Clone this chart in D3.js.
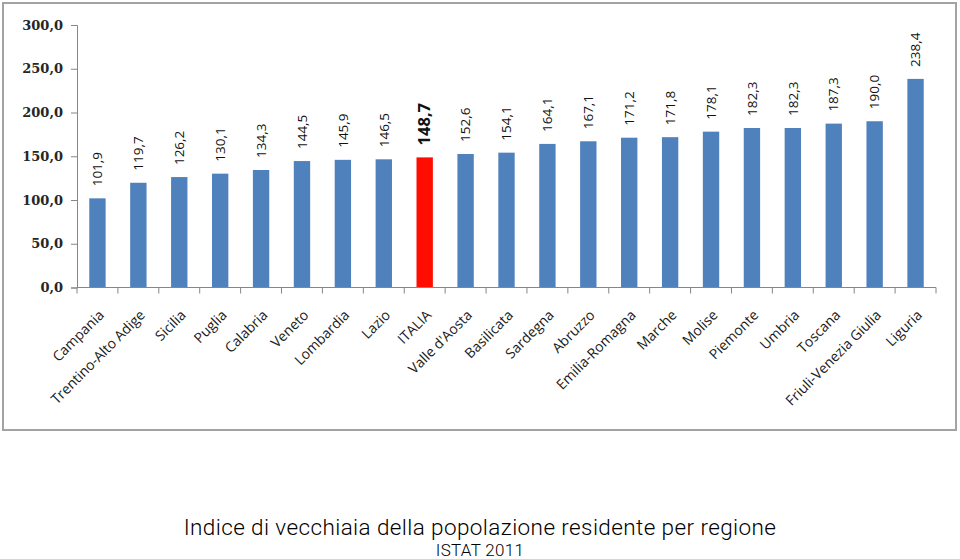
<!DOCTYPE html>
<html>
<head>
<meta charset="utf-8">
<script src="https://cdn.jsdelivr.net/npm/d3@7"></script>
<style>
  html, body { margin: 0; padding: 0; background: #fff; }
  svg { display: block; }
</style>
</head>
<body>
<svg id="chart" width="960" height="559"></svg>
<script>
const categories = ["Campania","Trentino-Alto Adige","Sicilia","Puglia","Calabria","Veneto","Lombardia","Lazio","ITALIA","Valle d'Aosta","Basilicata","Sardegna","Abruzzo","Emilia-Romagna","Marche","Molise","Piemonte","Umbria","Toscana","Friuli-Venezia Giulia","Liguria"];
const values = [101.9,119.7,126.2,130.1,134.3,144.5,145.9,146.5,148.7,152.6,154.1,164.1,167.1,171.2,171.8,178.1,182.3,182.3,187.3,190.0,238.4];
const highlight = "ITALIA";
const yTicks = [0,50,100,150,200,250,300];
const title = "Indice di vecchiaia della popolazione residente per regione";
const subtitle = "ISTAT 2011";

const fmt = v => v.toFixed(1).replace('.', ',');

const svg = d3.select("#chart");
const mLeft = 77, mRight = 936, mTop = 25, mBottom = 287.5;

// frame
svg.append("rect").attr("x", 3).attr("y", 3).attr("width", 953).attr("height", 427)
  .attr("fill", "#fff").attr("stroke", "#a3a3a3").attr("stroke-width", 2);

const x = d3.scaleBand().domain(categories).range([mLeft, mRight]).paddingInner(0.6).paddingOuter(0.3);
const xSlot = d3.scaleBand().domain(categories).range([mLeft, mRight]).padding(0);
const y = d3.scaleLinear().domain([0, 300]).range([mBottom, mTop]);

// bars
svg.append("g").selectAll("rect").data(categories).join("rect")
  .attr("x", d => x(d))
  .attr("y", (d, i) => y(values[i]))
  .attr("width", x.bandwidth())
  .attr("height", (d, i) => y(0) - y(values[i]))
  .attr("fill", d => d === highlight ? "#ff0d00" : "#4f81bd");

// y axis
const yAxis = svg.append("g").attr("transform", `translate(${mLeft},0)`)
  .call(d3.axisLeft(y).tickValues(yTicks).tickFormat(fmt).tickSize(6).tickPadding(8));
yAxis.select(".domain").attr("stroke", "#868686").attr("stroke-width", 1);
yAxis.selectAll(".tick line").attr("stroke", "#868686");
yAxis.selectAll(".tick text").attr("font-family", "'DejaVu Serif', serif").attr("font-weight", "bold")
  .attr("font-size", 13).attr("fill", "#262626");

// x axis line and ticks at slot boundaries
const bounds = categories.map(c => xSlot(c)).concat([xSlot.range()[1]]);
const xg = svg.append("g");
xg.append("line").attr("x1", mLeft).attr("x2", mRight).attr("y1", y(0)).attr("y2", y(0))
  .attr("stroke", "#868686");
xg.selectAll("line.t").data(bounds).join("line").attr("class", "t")
  .attr("x1", d => d).attr("x2", d => d).attr("y1", y(0)).attr("y2", y(0) + 6)
  .attr("stroke", "#868686");

// x labels
svg.append("g").selectAll("text").data(categories).join("text")
  .attr("transform", d => `translate(${x(d) + x.bandwidth() / 2 + 4},${y(0) + 25}) rotate(-45)`)
  .attr("text-anchor", "end")
  .attr("dy", "0.35em")
  .attr("font-family", "'Open Sans', sans-serif")
  .attr("font-size", 14)
  .attr("fill", "#1a1a1a")
  .text(d => d);

// value labels
svg.append("g").selectAll("text").data(categories).join("text")
  .attr("transform", (d, i) => `translate(${x(d) + x.bandwidth() / 2},${y(values[i]) - 12}) rotate(-90)`)
  .attr("text-anchor", "start")
  .attr("dy", "0.35em")
  .attr("font-family", "'Open Sans', sans-serif")
  .attr("font-size", d => d === highlight ? 16.5 : 13.5)
  .attr("font-weight", d => d === highlight ? "bold" : "normal")
  .attr("fill", "#111")
  .text((d, i) => fmt(values[i]));

// titles
svg.append("text").attr("x", 480).attr("y", 535).attr("text-anchor", "middle")
  .attr("font-family", "Roboto, 'Liberation Sans', sans-serif").attr("font-weight", 300)
  .attr("font-size", 22.5).attr("letter-spacing", 0.4).attr("fill", "#000").text(title);
svg.append("text").attr("x", 480).attr("y", 555.5).attr("text-anchor", "middle")
  .attr("font-family", "Roboto, 'Liberation Sans', sans-serif")
  .attr("font-weight", 300).attr("font-size", 17).attr("letter-spacing", 0.3).attr("fill", "#000").text(subtitle);
</script>
</body>
</html>
